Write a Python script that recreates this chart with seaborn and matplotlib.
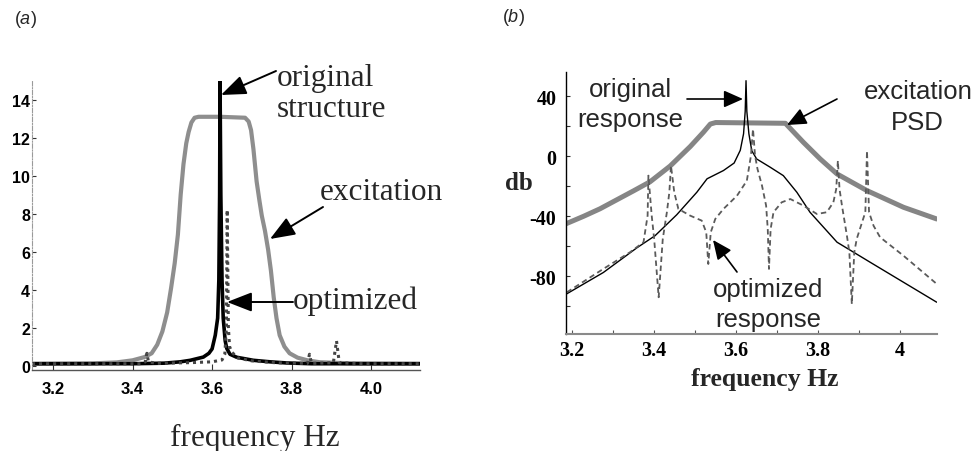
import matplotlib
matplotlib.use("Agg")
import matplotlib.pyplot as plt
import seaborn as sns

# ---------------- panel (a) data (linear scale) ----------------
a_exc_f = [3.147, 3.30, 3.36, 3.40, 3.43, 3.448, 3.462, 3.475, 3.487, 3.497, 3.506,
           3.514, 3.521, 3.528, 3.535, 3.541, 3.548, 3.556, 3.566, 3.62, 3.683, 3.692,
           3.698, 3.704, 3.712, 3.719, 3.725, 3.733, 3.741, 3.748, 3.755, 3.762, 3.770,
           3.782, 3.795, 3.815, 3.84, 3.87, 3.95, 4.123]
a_exc_v = [0.1, 0.12, 0.17, 0.28, 0.45, 0.65, 1.1, 1.8, 2.8, 4.1, 5.4,
           6.9, 9.0, 10.6, 11.7, 12.3, 12.8, 13.05, 13.1, 13.1, 13.05, 12.85,
           12.4, 11.4, 9.7, 8.7, 7.9, 7.1, 6.1, 5.0, 3.6, 2.5, 1.6,
           1.0, 0.65, 0.42, 0.28, 0.18, 0.12, 0.1]

a_orig_f = [3.147, 3.40, 3.48, 3.52, 3.545, 3.578, 3.592, 3.600, 3.608, 3.614, 3.617,
            3.619, 3.620, 3.622, 3.625, 3.628, 3.633, 3.637, 3.645, 3.662, 3.704,
            3.746, 3.788, 3.85, 4.123]
a_orig_v = [0.1, 0.1, 0.13, 0.2, 0.28, 0.45, 0.65, 0.88, 1.6, 2.5, 4.5,
            9.0, 15.0, 9.0, 4.5, 2.5, 1.3, 0.9, 0.6, 0.44, 0.28,
            0.2, 0.14, 0.1, 0.1]

a_opt_f = [3.147, 3.42, 3.432, 3.436, 3.440, 3.46, 3.55, 3.60, 3.625, 3.632, 3.636,
           3.638, 3.641, 3.644, 3.65, 3.665, 3.70, 3.76, 3.84, 3.845, 3.85, 3.905,
           3.913, 3.92, 3.98, 4.123]
a_opt_v = [0.1, 0.1, 0.2, 0.65, 0.2, 0.12, 0.16, 0.2, 0.3, 0.6, 2.0,
           8.2, 2.0, 1.0, 0.7, 0.4, 0.25, 0.15, 0.12, 0.6, 0.12, 0.15,
           1.3, 0.15, 0.1, 0.1]

a_xticks = [3.2, 3.4, 3.6, 3.8, 4.0]
a_xticklabels = ["3.2", "3.4", "3.6", "3.8", "4.0"]
a_yticks = [0, 2, 4, 6, 8, 10, 12, 14]

# ---------------- panel (b) data (dB) ----------------
b_exc_f = [3.185, 3.228, 3.268, 3.309, 3.35, 3.39, 3.439, 3.488, 3.52, 3.537, 3.55,
           3.72, 3.764, 3.805, 3.846, 3.919, 4.008, 4.089]
b_exc_v = [-45, -40, -35, -29, -23, -17, -6.5, 6.5, 16, 21.5, 22.5,
           22, 9.3, -1.8, -11.8, -22.9, -34, -41.8]

b_orig_f = [3.185, 3.276, 3.358, 3.402, 3.455, 3.504, 3.529, 3.569, 3.595, 3.610, 3.618,
            3.622, 3.624, 3.626, 3.631, 3.638, 3.650, 3.683, 3.715, 3.748, 3.780,
            3.846, 3.927, 4.008, 4.089]
b_orig_v = [-92, -77.5, -61, -53, -39, -24, -15, -9.5, -4.5, 4, 15,
            30, 50.4, 30, 15, 3.7, -1.8, -7.3, -12.9, -24, -37.3,
            -57.3, -70.7, -84, -97.3]

b_opt_f = [3.187, 3.276, 3.341, 3.374, 3.384, 3.386, 3.394, 3.400, 3.411, 3.421, 3.431,
           3.437, 3.441, 3.449, 3.459, 3.488, 3.516, 3.527, 3.532, 3.538, 3.549,
           3.569, 3.602, 3.626, 3.636, 3.641, 3.646, 3.652, 3.663, 3.673, 3.677,
           3.680, 3.684, 3.691, 3.711, 3.732, 3.764, 3.797, 3.821, 3.837, 3.844,
           3.848, 3.852, 3.858, 3.870, 3.876, 3.882, 3.888, 3.894, 3.907, 3.915,
           3.919, 3.924, 3.935, 3.951, 4.008, 4.089]
b_opt_v = [-90.7, -75.1, -64, -57.3, -39.6, -12.9, -39.6, -55.1, -94, -55.1, -37.3,
           -24, -6.3, -24, -35.1, -39.6, -42.9, -50.7, -71.8, -50.7, -41.8,
           -35.1, -26.3, -16.3, 0.4, 18.2, 0.4, -8.5, -19.6, -32.9, -48.5,
           -75.1, -48.5, -37.3, -30.7, -28.5, -32.9, -38.5, -37.3, -30.7, -21.8,
           -2.9, -21.8, -32.9, -52.9, -64, -98.5, -64, -55.1, -44, -37.3,
           3.7, -37.3, -46.3, -54, -66.3, -85.1]

b_xticks = [3.2, 3.4, 3.6, 3.8, 4.0]
b_xticklabels = ["3.2", "3.4", "3.6", "3.8", "4"]
b_xminor = [3.3, 3.5, 3.7, 3.9]
b_yticks = [40, 0, -40, -80]
b_yminor = [20, -20, -60, -100]

# ---------------- figure ----------------
W, H = 976, 452
sns.set_theme(style="white")
plt.rcParams["font.family"] = ["Liberation Sans", "DejaVu Sans"]
plt.rcParams["mathtext.fontset"] = "custom"
plt.rcParams["mathtext.it"] = "Liberation Sans:italic"
plt.rcParams["mathtext.rm"] = "Liberation Sans"

SERIF = ["Liberation Serif", "DejaVu Serif"]
SANS = ["Liberation Sans", "DejaVu Sans"]

fig = plt.figure(figsize=(W / 100, H / 100), dpi=100)
fig.patch.set_facecolor("white")


def rect(x0, y0, x1, y1):
    return [x0 / W, 1 - y1 / H, (x1 - x0) / W, (y1 - y0) / H]


def fx(x):
    return x / W


def fy(y):
    return 1 - y / H


def fp(x, y):
    return (x, H - y)


# ---------- panel (a) ----------
axa = fig.add_axes(rect(32, 81.7, 420, 371))
axa.set_facecolor("none")
sns.lineplot(x=a_exc_f, y=a_exc_v, ax=axa, color="#8e8e8e", linewidth=3.0,
             sort=False, estimator=None)
sns.lineplot(x=a_orig_f, y=a_orig_v, ax=axa, color="black", linewidth=2.6,
             sort=False, estimator=None)
sns.lineplot(x=a_opt_f, y=a_opt_v, ax=axa, color="#444444", linewidth=2.2,
             linestyle=(0, (1, 1.3)), sort=False, estimator=None)
axa.set_xlim(3.147, 4.123)
axa.set_ylim(-0.23, 15.0)
axa.set_xticks(a_xticks)
axa.set_xticklabels(a_xticklabels)
axa.set_yticks(a_yticks)
axa.set_yticklabels([str(v) for v in a_yticks])
axa.set_xlabel("")
axa.set_ylabel("")
for s in ("top", "right"):
    axa.spines[s].set_visible(False)
axa.spines["left"].set_color("#9a9a9a")
axa.spines["left"].set_linestyle((0, (4, 1.5, 1, 1.5)))
axa.spines["left"].set_linewidth(0.8)
axa.spines["bottom"].set_color("#555555")
axa.spines["bottom"].set_linewidth(1.0)
axa.tick_params(axis="x", bottom=True, direction="in", length=4, width=0.8,
                pad=8, labelsize=12, colors="#333333", labelcolor="black")
axa.tick_params(axis="y", left=True, direction="in", length=3, width=0.8,
                pad=1.5, labelsize=11.5, colors="#333333", labelcolor="black")
for lab in axa.get_xticklabels() + axa.get_yticklabels():
    lab.set_fontweight("bold")
    lab.set_family(SANS)
axa.grid(False)

fig.text(fx(25), fy(20), "($\\mathit{a}$)", ha="center", va="center", fontsize=13)
fig.text(fx(277), fy(86), "original", ha="left", va="baseline", fontsize=22.5,
         family=SERIF)
fig.text(fx(277), fy(117), "structure", ha="left", va="baseline", fontsize=22.5,
         family=SERIF)
fig.text(fx(320), fy(200), "excitation", ha="left", va="baseline", fontsize=22.5,
         family=SERIF)
fig.text(fx(293), fy(309), "optimized", ha="left", va="baseline", fontsize=22.5,
         family=SERIF)
fig.text(fx(255), fy(446), "frequency Hz", ha="center", va="baseline", fontsize=22.5,
         family=SERIF)

big = dict(arrowstyle="-|>,head_length=0.9,head_width=0.35", mutation_scale=17,
           color="black", lw=1.4, shrinkA=0, shrinkB=0)
fig.add_artist(plt.Annotation("", xy=fp(221, 96), xytext=fp(276, 72),
                              xycoords="figure pixels", textcoords="figure pixels",
                              arrowprops=big))
fig.add_artist(plt.Annotation("", xy=fp(270, 240), xytext=fp(323, 208),
                              xycoords="figure pixels", textcoords="figure pixels",
                              arrowprops=big))
fig.add_artist(plt.Annotation("", xy=fp(227, 303), xytext=fp(293, 303),
                              xycoords="figure pixels", textcoords="figure pixels",
                              arrowprops=big))

# ---------- panel (b) ----------
axb = fig.add_axes(rect(566, 73.3, 936.7, 335))
axb.set_facecolor("none")
sns.lineplot(x=b_exc_f, y=b_exc_v, ax=axb, color="#858585", linewidth=3.6,
             sort=False, estimator=None)
sns.lineplot(x=b_orig_f, y=b_orig_v, ax=axb, color="black", linewidth=1.0,
             sort=False, estimator=None)
sns.lineplot(x=b_opt_f, y=b_opt_v, ax=axb, color="#5a5a5a", linewidth=1.3,
             linestyle=(0, (3, 2)), sort=False, estimator=None)
axb.set_xlim(3.185, 4.089)
axb.set_ylim(-118.5, 56)
axb.set_xticks(b_xticks)
axb.set_xticklabels(b_xticklabels)
axb.set_xticks(b_xminor, minor=True)
axb.set_yticks(b_yticks)
axb.set_yticklabels([str(v) for v in b_yticks])
axb.set_yticks(b_yminor, minor=True)
axb.set_xlabel("")
axb.set_ylabel("")
for s in ("top", "right"):
    axb.spines[s].set_visible(False)
axb.spines["left"].set_color("black")
axb.spines["left"].set_linewidth(1.0)
axb.spines["bottom"].set_color("#8a8a8a")
axb.spines["bottom"].set_linewidth(1.5)
axb.tick_params(axis="x", which="both", bottom=True, direction="in", length=3,
                width=0.8, pad=4, labelsize=14.5, colors="#555555", labelcolor="black")
axb.tick_params(axis="y", which="both", left=True, direction="in", length=3,
                width=0.8, pad=7, labelsize=14.5, colors="#333333", labelcolor="black")
for lab in axb.get_xticklabels() + axb.get_yticklabels():
    lab.set_fontweight("bold")
    lab.set_family(SERIF)
axb.grid(False)

fig.text(fx(513), fy(18), "($\\mathit{b}$)", ha="center", va="center", fontsize=13)
fig.text(fx(519), fy(183), "db", ha="center", va="center", fontsize=18,
         fontweight="bold", family=SERIF)
fig.text(fx(765), fy(380), "frequency Hz", ha="center", va="center", fontsize=18.5,
         fontweight="bold", family=SERIF)

fig.text(fx(630), fy(97), "original", ha="center", va="baseline", fontsize=18.5,
         family=SANS)
fig.text(fx(630), fy(127), "response", ha="center", va="baseline", fontsize=18.5,
         family=SANS)
fig.text(fx(918), fy(99), "excitation", ha="center", va="baseline", fontsize=18.5,
         family=SANS)
fig.text(fx(917), fy(130), "PSD", ha="center", va="baseline", fontsize=18.5,
         family=SANS)
fig.text(fx(768), fy(297), "optimized", ha="center", va="baseline", fontsize=18.5,
         family=SANS)
fig.text(fx(768), fy(327), "response", ha="center", va="baseline", fontsize=18.5,
         family=SANS)

small = dict(arrowstyle="-|>,head_length=0.9,head_width=0.4", mutation_scale=13,
             color="black", lw=1.2, shrinkA=0, shrinkB=0)
fig.add_artist(plt.Annotation("", xy=fp(743, 100), xytext=fp(687, 100),
                              xycoords="figure pixels", textcoords="figure pixels",
                              arrowprops=small))
fig.add_artist(plt.Annotation("", xy=fp(787, 126), xytext=fp(837, 100),
                              xycoords="figure pixels", textcoords="figure pixels",
                              arrowprops=small))
fig.add_artist(plt.Annotation("", xy=fp(713, 241), xytext=fp(737, 273),
                              xycoords="figure pixels", textcoords="figure pixels",
                              arrowprops=small))

fig.savefig("out.png", dpi=100, facecolor="white")
